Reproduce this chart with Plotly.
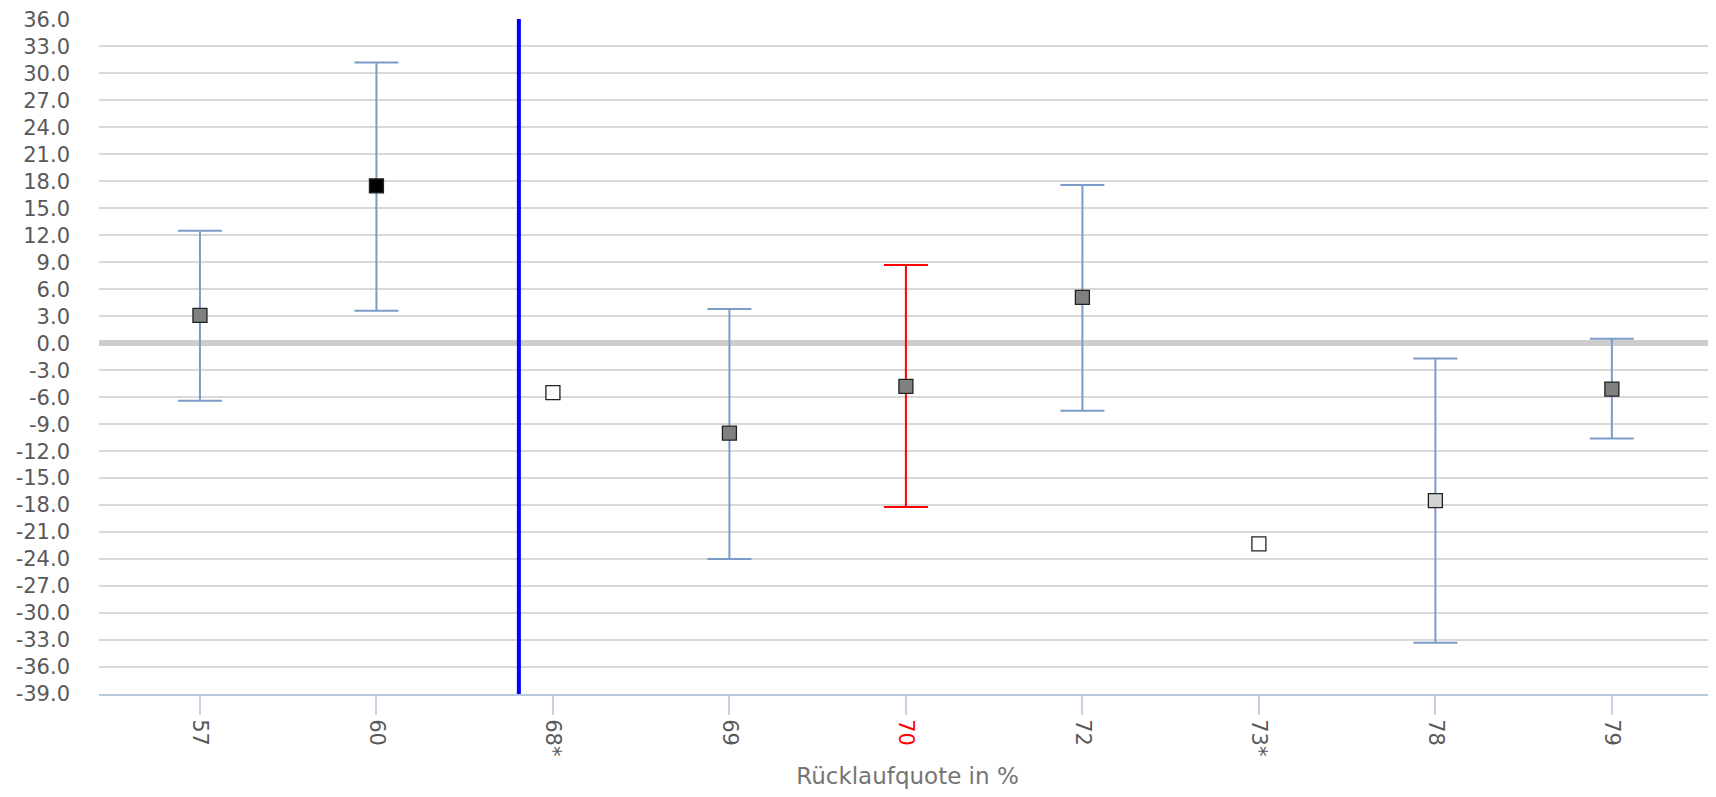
import plotly.graph_objects as go

# ---- data ----
categories = ["57", "60", "68*", "69", "70", "72", "73*", "78", "79"]
values     = [3.1, 17.5, -5.5, -10.0, -4.8, 5.1, -22.3, -17.5, -5.1]
ci_upper   = [12.5, 31.2, None, 3.8, 8.7, 17.6, None, -1.7, 0.5]
ci_lower   = [-6.4, 3.6, None, -24.0, -18.2, -7.5, None, -33.3, -10.6]
marker_colors = ["#808080", "#000000", "#ffffff", "#808080", "#808080",
                 "#808080", "#ffffff", "#d3d3d3", "#808080"]
errbar_colors = ["#7b9cc8", "#7b9cc8", "#7b9cc8", "#7b9cc8", "#ff0000",
                 "#7b9cc8", "#7b9cc8", "#7b9cc8", "#7b9cc8"]
label_colors  = [None, None, None, None, "red", None, None, None, None]
divider_pos = 1.807   # vertical reference line position (category index units)
y_ticks = list(range(-39, 37, 3))

fig = go.Figure()
for i, cat in enumerate(categories):
    err = None
    if ci_upper[i] is not None:
        err = dict(type="data", symmetric=False,
                   array=[ci_upper[i] - values[i]],
                   arrayminus=[values[i] - ci_lower[i]],
                   color=errbar_colors[i], thickness=2, width=22)
    fig.add_trace(go.Scatter(
        x=[i], y=[values[i]], mode="markers",
        marker=dict(symbol="square", size=14, color=marker_colors[i],
                    line=dict(color="#222222", width=1.3)),
        error_y=err, showlegend=False, hoverinfo="skip"))

ticktext = [f'<span style="color:{c}">{t}</span>' if c else t
            for t, c in zip(categories, label_colors)]

fig.add_shape(type="line", xref="x", yref="paper",
              x0=divider_pos, x1=divider_pos, y0=0, y1=1,
              line=dict(color="#0000ff", width=4), layer="above")

fig.update_layout(
    width=1708, height=781,
    margin=dict(l=91, r=0, t=9, b=95),
    plot_bgcolor="white", paper_bgcolor="white",
    font=dict(family="DejaVu Sans", size=21, color="#595959"),
)
fig.update_xaxes(
    range=[-0.572, 8.59],
    tickmode="array", tickvals=list(range(len(categories))), ticktext=ticktext,
    tickangle=90, showgrid=False, zeroline=False,
    showline=True, linecolor="#b8c9de", linewidth=2,
    ticks="outside", ticklen=19, tickcolor="#c5d3e3", tickwidth=1.5,
    tickfont=dict(size=21, color="#595959"),
    title=dict(text="Rücklaufquote in %", font=dict(size=23, color="#757575"),
               standoff=16),
)
fig.update_yaxes(
    range=[-39, 36.05], tickmode="array", tickvals=y_ticks,
    ticktext=[f"{v:.1f}" for v in y_ticks],
    showgrid=True, gridcolor="#d9d9d9", gridwidth=1.5,
    zeroline=True, zerolinecolor="#cdcdcd", zerolinewidth=6,
    showline=False, ticks="", ticklabelstandoff=28,
    ticklabeloverflow="allow",
    tickfont=dict(size=21, color="#595959"),
)

fig.write_html("out.html")
